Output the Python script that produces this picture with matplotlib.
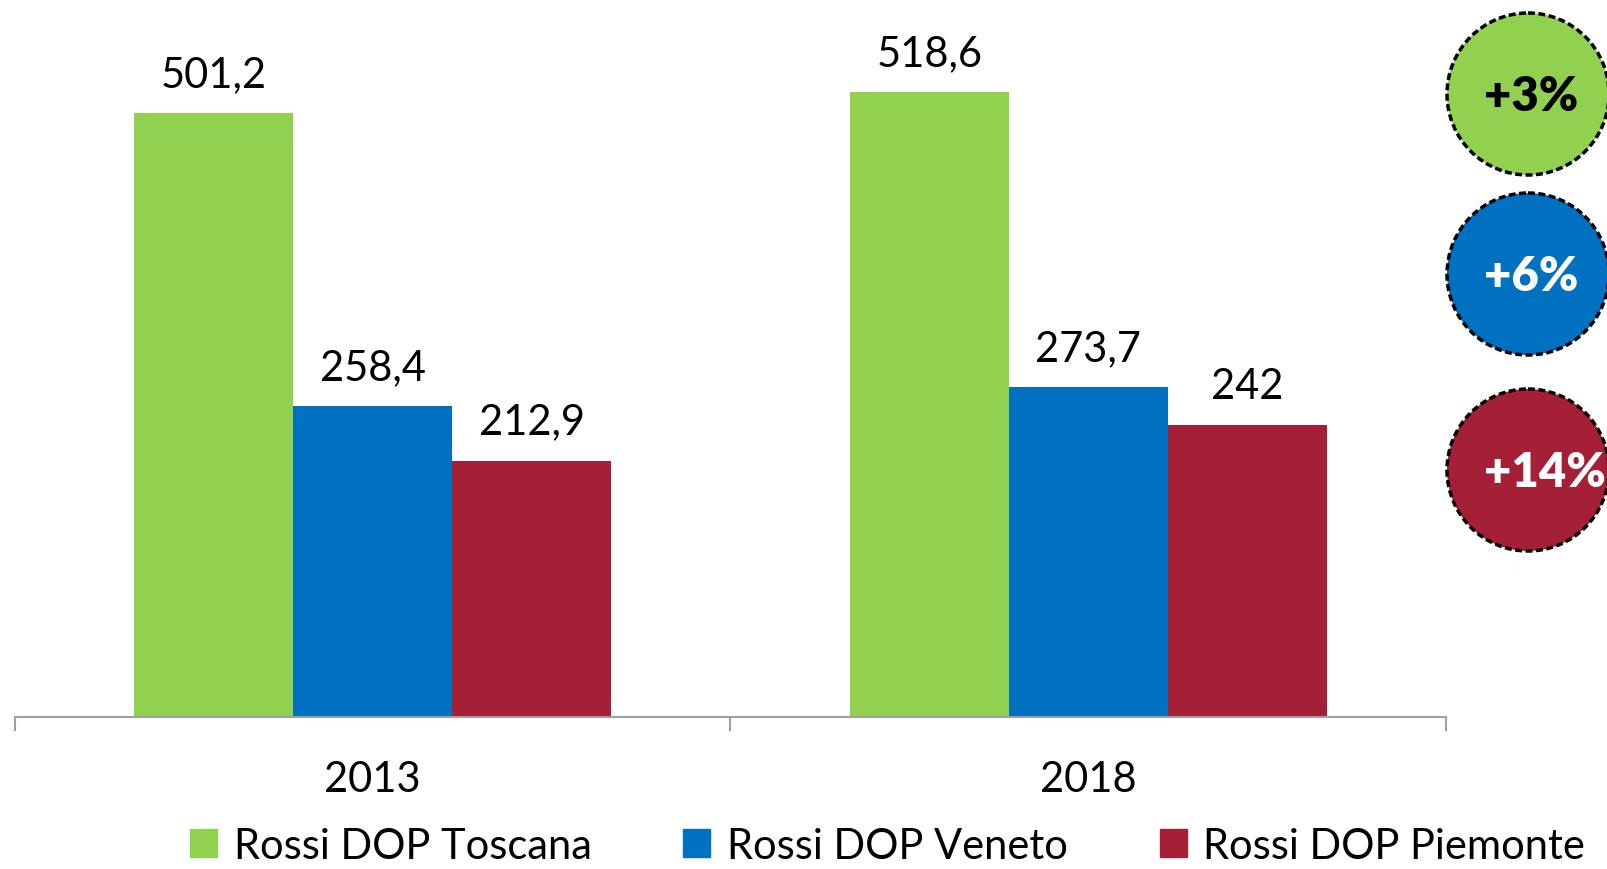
import matplotlib.pyplot as plt
from matplotlib.patches import Circle, Patch

# Data
years = ["2013", "2018"]
series = ["Rossi DOP Toscana", "Rossi DOP Veneto", "Rossi DOP Piemonte"]
toscana = [501.2, 518.6]
veneto = [258.4, 273.7]
piemonte = [212.9, 242]
growth = ["+3%", "+6%", "+14%"]

colors = ["#92D050", "#0070C0", "#A52036"]
growth_text_colors = ["black", "white", "white"]

plt.rcParams['font.family'] = ['Lato', 'DejaVu Sans']

fig = plt.figure(figsize=(16.08, 8.7), dpi=100)
ax = fig.add_axes([15 / 1608, 152 / 870, 1431 / 1608, 718 / 870])

w = 0.222
x = range(len(years))
for i, vals in enumerate([toscana, veneto, piemonte]):
    pos = [xi + (i - 1) * w for xi in x]
    ax.bar(pos, vals, width=w, color=colors[i], label=series[i])
    for px, v in zip(pos, vals):
        lab = f"{v:g}".replace(".", ",")
        ax.annotate(lab, (px, v), xytext=(0, 39), textcoords="offset pixels",
                    ha="center", va="center", fontsize=30)

ax.set_xlim(-0.5, 1.5)
ax.set_ylim(0, 596)
ax.set_xticks(list(x))
ax.set_xticklabels(years, fontsize=30)
ax.set_xticks([-0.5, 0.5, 1.5], minor=True)
ax.tick_params(axis="x", which="major", length=0, pad=31)
ax.tick_params(axis="x", which="minor", length=10, width=1.5, color="#a0a0a0")
ax.set_yticks([])
for s in ["top", "right", "left"]:
    ax.spines[s].set_visible(False)
ax.spines["bottom"].set_color("#a0a0a0")
ax.spines["bottom"].set_linewidth(1.5)

# Legend
handles = [Patch(color=c) for c in colors]
fig.legend(handles, series, loc="center", bbox_to_anchor=(0.552, 0.027), ncol=3,
           frameon=False, fontsize=30, handlelength=0.65, handleheight=0.65,
           handletextpad=0.4, columnspacing=2.2, borderpad=0.1)

# Growth bubbles
ov = fig.add_axes([0, 0, 1, 1], facecolor="none")
ov.set_xlim(0, 1608)
ov.set_ylim(870, 0)
ov.axis("off")
centers = [95, 275, 471]
for cy, g, c, tc in zip(centers, growth, colors, growth_text_colors):
    ov.add_patch(Circle((1528, cy), 81, facecolor=c, edgecolor="black",
                        linewidth=2.5, linestyle=(0, (2, 1))))
    ov.text(1484, cy + 2, g, ha="left", va="center", fontsize=34,
            fontweight="heavy", color=tc)

fig.savefig("out.png", dpi=100)
